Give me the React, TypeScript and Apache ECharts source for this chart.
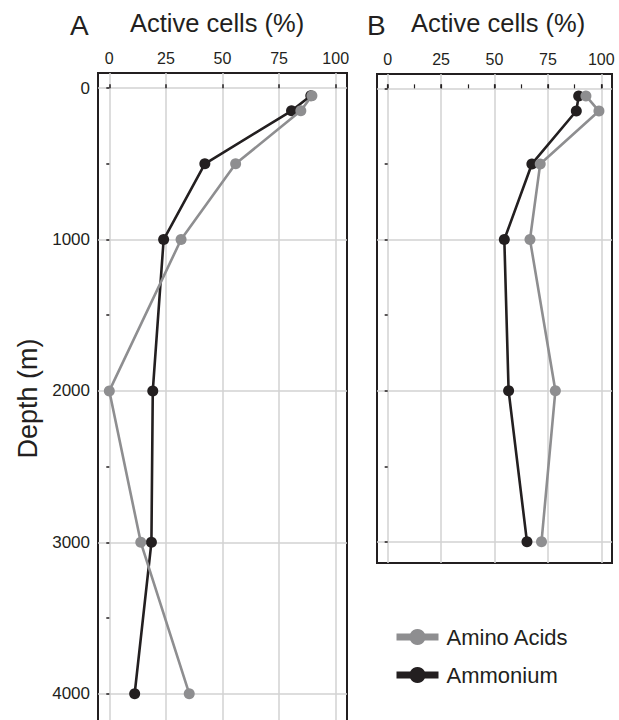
import React, { useEffect, useRef } from "react";
import * as echarts from "echarts";

const depthsA = [50, 150, 500, 1000, 2000, 3000, 4000];
const aminoA = [89.5, 84.6, 55.8, 31.7, 0, 13.9, 35.3];
const ammoniumA = [89, 80.5, 42.2, 24.0, 19.2, 18.6, 11.2];

const depthsB = [50, 150, 500, 1000, 2000, 3000];
const aminoB = [92.8, 98.9, 71.4, 66.6, 78.5, 72.0];
const ammoniumB = [89.4, 88.3, 67.5, 54.6, 56.6, 65.2];

const xTicks = [0, 25, 50, 75, 100];
const xMinorTicks = [0, 12.5, 25, 37.5, 50, 62.5, 75, 87.5, 100];
const yMajorA = [0, 1000, 2000, 3000, 4000];
const yMinorA = [0, 500, 1000, 1500, 2000, 2500, 3000, 3500, 4000];
const yMajorB = [0, 1000, 2000, 3000];
const yMinorB = [0, 500, 1000, 1500, 2000, 2500, 3000];

const seriesNames = ["Amino Acids", "Ammonium"];
const GRAY = "#8e8e90";
const BLACK = "#231f20";
const FONT = "'Liberation Sans', Arial, Helvetica, sans-serif";

function pairs(xs: number[], ys: number[]) {
  return xs.map((x, i) => [x, ys[i]]);
}

export default function App() {
  const ref = useRef<HTMLDivElement>(null);
  useEffect(() => {
    if (!ref.current) return;
    const chart = echarts.init(ref.current, undefined, { renderer: "svg" });
    const gridLine = { show: true, lineStyle: { color: "#d2d2d2", width: 1.5 } };
    const baseX = {
      type: "value",
      min: -5,
      max: 105,
      axisLine: { show: false },
    };
    const titleStyle = (size: number) => ({ fontSize: size, fontWeight: "normal", color: BLACK, fontFamily: FONT });
    const option: any = {
      animation: false,
      textStyle: { fontFamily: FONT, color: BLACK },
      title: [
        { text: "A", left: 70, top: 11, padding: 0, textStyle: titleStyle(28) },
        { text: "Active cells (%)", left: 130, top: 10, padding: 0, textStyle: titleStyle(25.5) },
        { text: "B", left: 367, top: 11, padding: 0, textStyle: titleStyle(28) },
        { text: "Active cells (%)", left: 411, top: 10, padding: 0, textStyle: titleStyle(25.5) },
      ],
      grid: [
        { left: 98, top: 73, width: 249, height: 651, show: true, borderColor: BLACK, borderWidth: 2, backgroundColor: "transparent", containLabel: false },
        { left: 377, top: 74, width: 235, height: 489, show: true, borderColor: BLACK, borderWidth: 2, backgroundColor: "transparent", containLabel: false },
      ],
      xAxis: [
        {
          ...baseX,
          gridIndex: 0,
          position: "top",
          axisTick: { show: true, length: 4, inside: false, customValues: xTicks, lineStyle: { color: BLACK, width: 1.5 } },
          axisLabel: { show: true, customValues: xTicks, fontSize: 16, color: BLACK, fontFamily: FONT, margin: 7 },
          splitLine: gridLine,
        },
        {
          ...baseX,
          gridIndex: 1,
          position: "top",
          axisTick: { show: true, length: 4, inside: false, customValues: xTicks, lineStyle: { color: BLACK, width: 1.5 } },
          axisLabel: { show: true, customValues: xTicks, fontSize: 16, color: BLACK, fontFamily: FONT, margin: 7 },
          splitLine: gridLine,
        },
        {
          ...baseX,
          gridIndex: 1,
          position: "bottom",
          axisTick: { show: true, length: 4, inside: true, customValues: xMinorTicks, lineStyle: { color: BLACK, width: 1.2 } },
          axisLabel: { show: false },
          splitLine: { show: false },
        },
      ],
      yAxis: [
        {
          type: "value",
          gridIndex: 0,
          position: "left",
          inverse: true,
          min: -100,
          max: 4200,
          axisLine: { show: false },
          axisTick: { show: true, length: 3, inside: false, customValues: yMinorA, lineStyle: { color: BLACK, width: 1.5 } },
          axisLabel: { show: true, customValues: yMajorA, fontSize: 17, color: BLACK, fontFamily: FONT, margin: 8, formatter: (v: number) => String(v) },
          splitLine: { show: false },
          name: "Depth (m)",
          nameLocation: "middle",
          nameGap: 57,
          nameTextStyle: { fontSize: 27, color: BLACK, fontFamily: FONT },
        },
        {
          type: "value",
          gridIndex: 0,
          position: "right",
          inverse: true,
          min: -100,
          max: 4200,
          axisLine: { show: false },
          axisTick: { show: false, customValues: yMajorA },
          axisLabel: { show: false, customValues: yMajorA },
          splitLine: gridLine,
        },
        {
          type: "value",
          gridIndex: 1,
          position: "left",
          inverse: true,
          min: -95,
          max: 3140,
          axisLine: { show: false },
          axisTick: { show: true, length: 3, inside: false, customValues: yMinorB, lineStyle: { color: BLACK, width: 1.5 } },
          axisLabel: { show: false },
          splitLine: { show: false },
        },
        {
          type: "value",
          gridIndex: 1,
          position: "right",
          inverse: true,
          min: -95,
          max: 3140,
          axisLine: { show: false },
          axisTick: { show: false, customValues: yMajorB },
          axisLabel: { show: false, customValues: yMajorB },
          splitLine: gridLine,
        },
      ],
      legend: {
        orient: "vertical",
        left: 388,
        top: 621,
        itemWidth: 42,
        itemHeight: 20,
        itemGap: 16,
        data: seriesNames,
        textStyle: { fontSize: 22, color: BLACK, fontFamily: FONT, padding: [0, 0, 0, 3] },
        lineStyle: { width: 7 },
      },
      series: [
        {
          name: seriesNames[1], type: "line", xAxisIndex: 0, yAxisIndex: 0,
          data: pairs(ammoniumA, depthsA), symbol: "circle", symbolSize: 11,
          lineStyle: { color: BLACK, width: 2.6 }, itemStyle: { color: BLACK }, z: 3,
        },
        {
          name: seriesNames[0], type: "line", xAxisIndex: 0, yAxisIndex: 0,
          data: pairs(aminoA, depthsA), symbol: "circle", symbolSize: 11,
          lineStyle: { color: GRAY, width: 2.6 }, itemStyle: { color: GRAY }, z: 4,
        },
        {
          name: seriesNames[1], type: "line", xAxisIndex: 1, yAxisIndex: 2,
          data: pairs(ammoniumB, depthsB), symbol: "circle", symbolSize: 11,
          lineStyle: { color: BLACK, width: 2.6 }, itemStyle: { color: BLACK }, z: 3,
        },
        {
          name: seriesNames[0], type: "line", xAxisIndex: 1, yAxisIndex: 2,
          data: pairs(aminoB, depthsB), symbol: "circle", symbolSize: 11,
          lineStyle: { color: GRAY, width: 2.6 }, itemStyle: { color: GRAY }, z: 4,
        },
      ],
    };
    chart.setOption(option);
    return () => chart.dispose();
  }, []);
  return (
    <div style={{ position: "fixed", left: 0, top: 0, width: 619, height: 720, overflow: "hidden", background: "#fff" }}>
      <div ref={ref} style={{ width: 619, height: 760 }} />
    </div>
  );
}
